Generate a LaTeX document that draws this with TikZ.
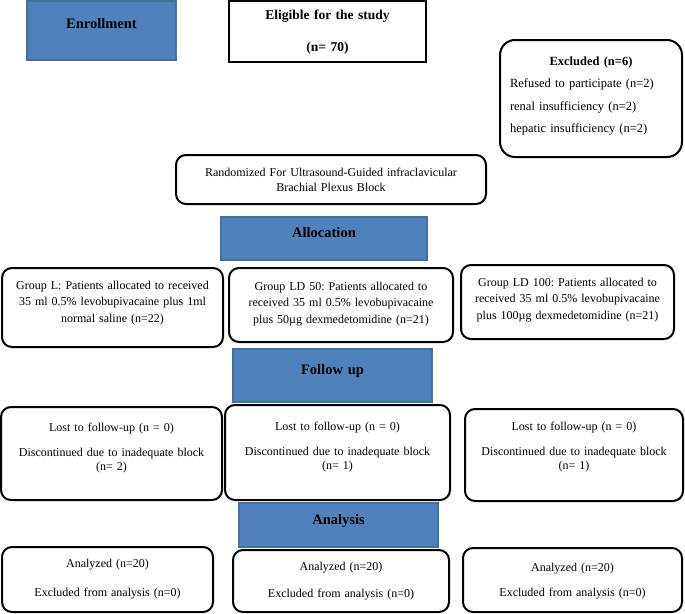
\documentclass[tikz,border=0pt]{standalone}
\usepackage{fontspec}
\setmainfont{Liberation Serif}
\usepackage{tikz}
\frenchspacing

\definecolor{hdrblue}{HTML}{4F81BD}
\definecolor{hdredge}{HTML}{41719C}

\tikzset{
  sized/.style n args={3}{text width=#1pt, text height=#2pt, text depth=#3pt},
  stage/.style={anchor=north west, outer sep=0pt, inner sep=0pt, align=center,
    fill=hdrblue, draw=hdredge, line width=1.5pt,
    font=\bfseries\fontsize{14.5}{17}\selectfont},
  roundbox/.style={anchor=north west, outer sep=0pt, inner sep=0pt, align=center,
    draw, line width=2pt, rounded corners=10pt,
    font=\fontsize{12}{16.5}\selectfont},
}

\begin{document}
\begin{tikzpicture}[x=1pt,y=-1pt]
\useasboundingbox (0,0) rectangle (685,613);

% enrollment
\node[stage, sized={149}{27}{32}] (enroll) at (27,1) {Enrollment};
\node[anchor=north west, outer sep=0pt, inner sep=0pt, align=center, draw,
      line width=2.5pt, font=\bfseries\fontsize{13.5}{16}\selectfont,
      sized={197}{18.5}{42.5}] (elig) at (229,1)
      {Eligible for the study\\[16pt](n= 70)};
\node[roundbox, rounded corners=15pt, align=left, inner xsep=10pt,
      font=\fontsize{12.5}{22.5}\selectfont, sized={162}{25}{92}] (excl) at (500,40)
      {\makebox[162pt]{\textbf{Excluded (n=6)}}\\
       Refused to participate (n=2)\\
       renal insufficiency (n=2)\\
       hepatic insufficiency (n=2)};
\node[roundbox, font=\fontsize{12}{15.5}\selectfont, sized={310}{21}{28}] (rand) at (176,155)
      {Randomized For Ultrasound-Guided infraclavicular\\Brachial Plexus Block};

% allocation
\node[stage, sized={206}{20}{23}] (alloc) at (221,217) {Allocation};
\node[roundbox, sized={221}{21}{58}] (grp_l) at (2,268)
      {Group L: Patients allocated to received\\35 ml 0.5\% levobupivacaine plus 1ml\\normal saline (n=22)};
\node[roundbox, sized={224}{22}{52}] (grp_m) at (229,268)
      {Group LD 50: Patients allocated to\\received 35 ml 0.5\% levobupivacaine\\plus 50µg dexmedetomidine (n=21)};
\node[roundbox, sized={213}{21}{53}] (grp_r) at (461,265)
      {Group LD 100: Patients allocated to\\received 35 ml 0.5\% levobupivacaine\\plus 100µg dexmedetomidine (n=21)};

% follow up
\node[stage, sized={199}{25}{28}] (follow) at (233,349) {Follow up};
\node[roundbox, font=\fontsize{12}{13.8}\selectfont, sized={221}{24}{69}] (fol_l) at (1,407)
      {Lost to follow-up (n = 0)\\[12pt]Discontinued due to inadequate block\\(n= 2)};
\node[roundbox, font=\fontsize{12}{13.8}\selectfont, sized={225}{25}{70}] (fol_m) at (225,405)
      {Lost to follow-up (n = 0)\\[12pt]Discontinued due to inadequate block\\(n= 1)};
\node[roundbox, font=\fontsize{12}{13.8}\selectfont, sized={218}{21}{71}] (fol_r) at (465,409)
      {Lost to follow-up (n = 0)\\[12pt]Discontinued due to inadequate block\\(n= 1)};

% analysis
\node[stage, sized={199}{21}{23}] (anal) at (239,503) {Analysis};
\node[roundbox, font=\fontsize{12}{13.8}\selectfont, sized={211}{20}{45}] (ana_l) at (2,547)
      {Analyzed (n=20)\\[16pt]Excluded from analysis (n=0)};
\node[roundbox, font=\fontsize{12}{13.8}\selectfont, sized={216}{20}{42}] (ana_m) at (233,550)
      {Analyzed (n=20)\\[14pt]Excluded from analysis (n=0)};
\node[roundbox, font=\fontsize{12}{13.8}\selectfont, sized={219}{23}{41}] (ana_r) at (463,548)
      {Analyzed (n=20)\\[12pt]Excluded from analysis (n=0)};
\end{tikzpicture}
\end{document}
